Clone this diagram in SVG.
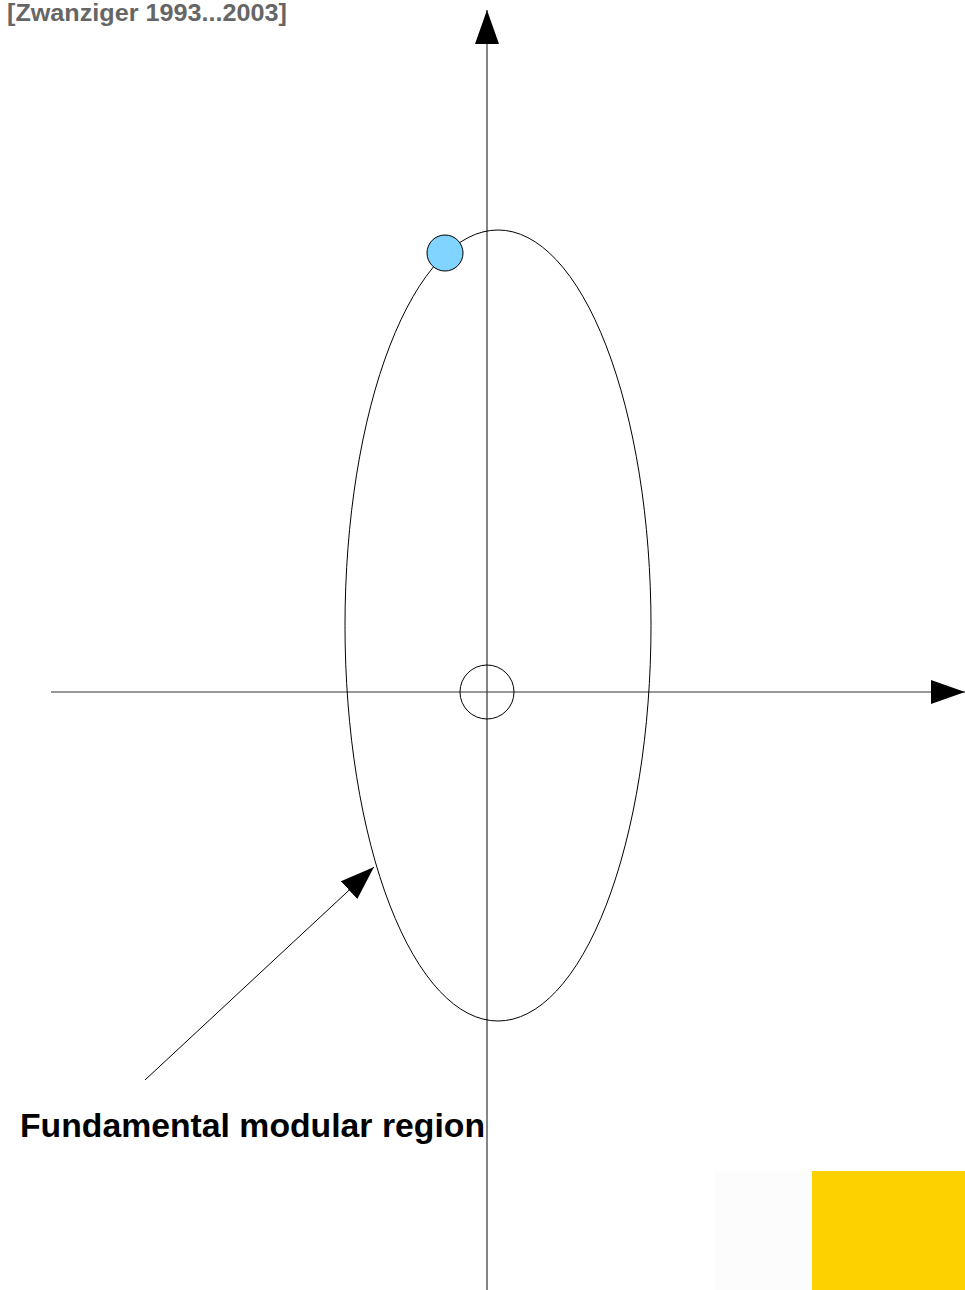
<svg xmlns="http://www.w3.org/2000/svg" width="965" height="1290" viewBox="0 0 965 1290">
<style>
.ln{stroke:#000;stroke-width:1;fill:none}
.ax{stroke:#333;stroke-width:1.2;fill:none}
.lbl{font-family:"Liberation Sans",Arial,sans-serif;font-weight:bold}
</style>
<defs>
<marker id="ah" markerUnits="userSpaceOnUse" markerWidth="34" markerHeight="24" refX="34" refY="12" orient="auto" viewBox="0 0 34 24">
<path d="M0,0 L34,12 L0,24 Z" fill="#000"/>
</marker>
</defs>
<rect width="965" height="1290" fill="#fff"/>
<g id="deco">
<rect x="715" y="1171" width="97" height="119" fill="#fcfcfc"/>
<rect x="812" y="1171" width="153" height="119" fill="#fdd100"/>
</g>
<g id="connectors">
<line class="ax" x1="487" y1="1290" x2="487" y2="10" marker-end="url(#ah)"/>
<line class="ax" x1="51" y1="692" x2="965" y2="692" marker-end="url(#ah)"/>
<line class="ln" x1="145" y1="1080" x2="374" y2="867" marker-end="url(#ah)"/>
</g>
<g id="region">
<ellipse class="ln" cx="498" cy="625.5" rx="153" ry="395.5"/>
</g>
<g id="origin">
<circle class="ln" cx="487" cy="692" r="27"/>
</g>
<g id="point">
<circle cx="445" cy="253" r="18" fill="#80d4ff" stroke="#000" stroke-width="1"/>
</g>
<g id="label">
<text class="lbl" x="20" y="1137" font-size="34" fill="#000" textLength="465" lengthAdjust="spacingAndGlyphs">Fundamental modular region</text>
</g>
<g id="citation">
<text class="lbl" x="7" y="21" font-size="23" fill="#666" textLength="280" lengthAdjust="spacingAndGlyphs">[Zwanziger 1993...2003]</text>
</g>
</svg>
